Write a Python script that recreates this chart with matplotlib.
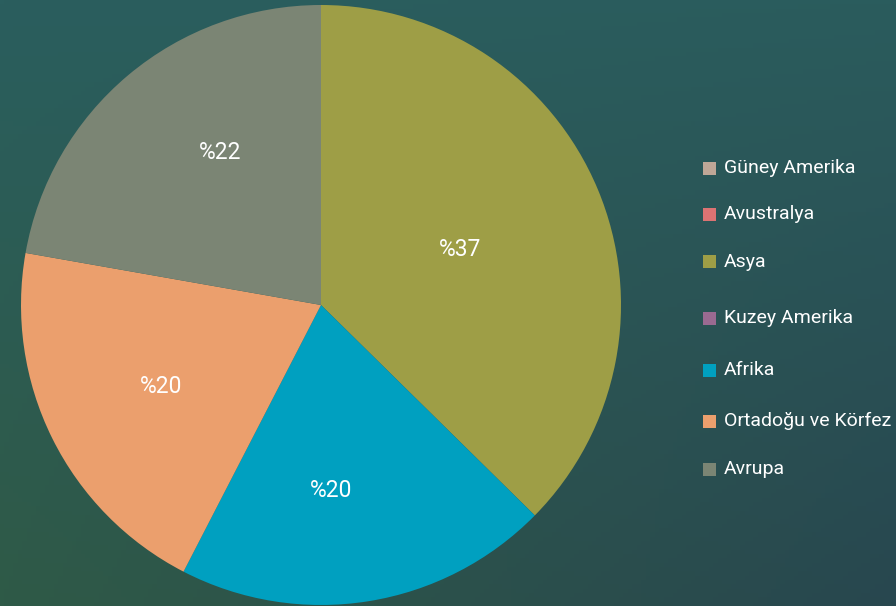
import matplotlib.pyplot as plt
import numpy as np
from matplotlib.patches import Rectangle

regions = ["Güney Amerika", "Avustralya", "Asya", "Kuzey Amerika",
           "Afrika", "Ortadoğu ve Körfez", "Avrupa"]
shares = [0, 0, 37, 0, 20, 20, 22]
colors = ["#bfa797", "#dc7373", "#9e9e46", "#9a6a91",
          "#00a0c0", "#eb9f6d", "#7b8574"]
legend_y = [168, 214, 262, 318, 370, 421, 469]  # pixel rows of legend entries

plt.rcParams['font.family'] = ['Roboto', 'DejaVu Sans']

fig = plt.figure(figsize=(8.96, 6.06), dpi=100)

# background gradient
bg = fig.add_axes([0, 0, 1, 1], zorder=0)
corners = np.array([[[0x2a, 0x5e, 0x5e], [0x2b, 0x5c, 0x5d]],
                    [[0x2f, 0x5a, 0x47], [0x28, 0x47, 0x4f]]]) / 255.0
u = np.linspace(0, 1, 200)[None, :, None]
v = np.linspace(0, 1, 140)[:, None, None]
top = corners[0, 0] * (1 - u) + corners[0, 1] * u
bot = corners[1, 0] * (1 - u) + corners[1, 1] * u
grad = top * (1 - v) + bot * v
bg.imshow(grad, aspect='auto', extent=[0, 1, 0, 1], origin='upper')
bg.axis('off')

# pie
W, H = 896, 606
cx, cy, r = 321, 305, 300
ax = fig.add_axes([(cx - r) / W, (H - cy - r) / H, 2 * r / W, 2 * r / H], zorder=1)
idx = [i for i, s in enumerate(shares) if s > 0]
wedges, _ = ax.pie([shares[i] for i in idx], colors=[colors[i] for i in idx],
                   startangle=90, counterclock=False,
                   wedgeprops=dict(linewidth=0))
ax.set_xlim(-1, 1)
ax.set_ylim(-1, 1)
ax.set_aspect('auto')

# label placement: (radius fraction, angle shift in degrees)
lab_pos = {2: (0.5, -1), 4: (0.62, -6), 5: (0.6, 0.6), 6: (0.61, -6.7)}
for w, i in zip(wedges, idx):
    d, shift = lab_pos[i]
    ang = np.deg2rad((w.theta1 + w.theta2) / 2 + shift)
    ax.text(d * np.cos(ang), d * np.sin(ang), f"%{shares[i]}",
            ha='center', va='center', color='white', fontsize=16.5)

# legend
for name, col, y in zip(regions, colors, legend_y):
    fig.patches.append(Rectangle((703 / W, (H - y - 6.5) / H), 13 / W, 13 / H,
                                 facecolor=col, edgecolor='none',
                                 transform=fig.transFigure, figure=fig, zorder=3))
    fig.text(724 / W, (H - y) / H, name, color='white', fontsize=14,
             va='center', ha='left', zorder=3)

fig.savefig("out.png", dpi=100)
